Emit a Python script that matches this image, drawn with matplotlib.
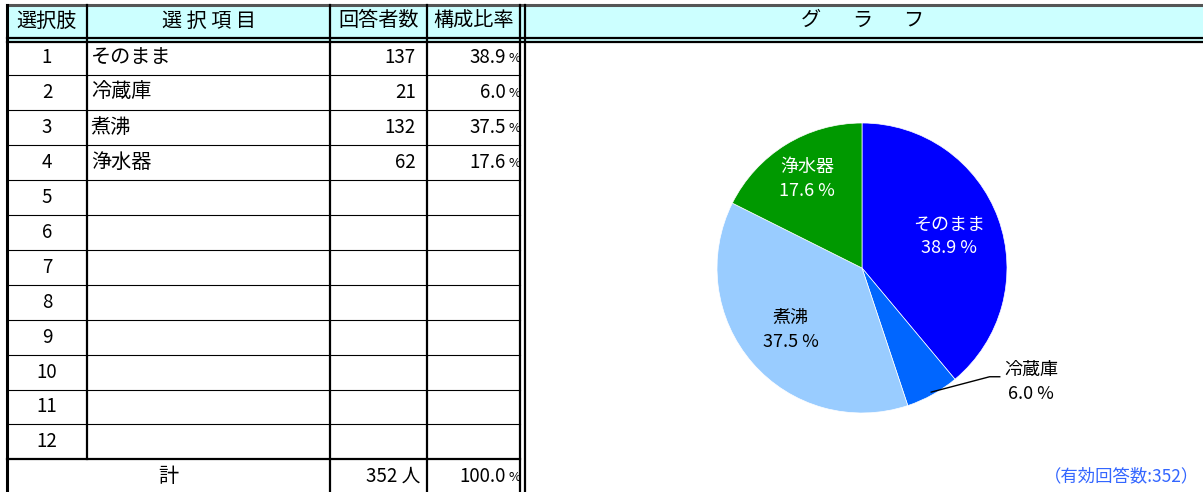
import numpy as np
import matplotlib
matplotlib.use('Agg')
import matplotlib.pyplot as plt

plt.rcParams['font.family'] = ['Noto Sans CJK JP', 'DejaVu Sans']

# table data
choices = list(range(1, 13))
items = ['そのまま', '冷蔵庫', '煮沸', '浄水器']
counts = [137, 21, 132, 62]
ratios = [38.9, 6.0, 37.5, 17.6]
total = 352
headers = ['選択肢', '選 択 項 目', '回答者数', '構成比率']
colors = ['#0000FF', '#0066FF', '#99CCFF', '#009900']
label_colors = ['white', 'black', 'black', 'white']

W, H = 1203, 492
fig = plt.figure(figsize=(W / 100, H / 100), dpi=100)
ax = fig.add_axes([0, 0, 1, 1])
ax.set_xlim(0, W)
ax.set_ylim(H, 0)
ax.axis('off')

# layout in pixels
cols = [7, 87, 330, 427, 520]
top, head_bot = 5, 42
row_h = 34.9
row0 = 40.5
n_rows = len(choices)
tab_bot = row0 + n_rows * row_h
thick, thin = 1.6, 0.8

ax.fill_between([cols[0], W], top, head_bot - 1, color='#CCFFFF', lw=0)

# header lines
ax.plot([cols[0], W], [top, top], color='#555555', lw=2.2)
ax.plot([cols[0], W], [37.5, 37.5], color='black', lw=thick)
ax.plot([cols[0], W], [42, 42], color='black', lw=thick)

# row lines
for i in range(1, n_rows):
    y = row0 + i * row_h
    ax.plot([cols[0], cols[-1]], [y, y], color='black', lw=thin)
ax.plot([cols[0], cols[-1]], [tab_bot, tab_bot], color='black', lw=thick)

# vertical lines
ax.plot([cols[0], cols[0]], [top, H], color='black', lw=2.2)
ax.plot([cols[1], cols[1]], [top, tab_bot], color='black', lw=thick)
for x in cols[2:4]:
    ax.plot([x, x], [top, H], color='black', lw=thick)
ax.plot([520, 520], [top, H], color='black', lw=thick)
ax.plot([525, 525], [top, H], color='black', lw=thick)

fs = 14.5
nfs = 13.5
# headers
hx = [(cols[i] + cols[i + 1]) / 2 for i in range(4)]
for x, h in zip(hx, headers):
    ax.text(x, 21, h, ha='center', va='center', fontsize=fs)
for k, ch in enumerate('グラフ'):
    ax.text(811 + k * 51, 20, ch, ha='center', va='center', fontsize=fs)

# rows
for i, c in enumerate(choices):
    yc = row0 + (i + 0.5) * row_h
    ax.text(47, yc, str(c), ha='center', va='center', fontsize=nfs)
    if i < len(items):
        ax.text(91, yc, items[i], ha='left', va='center', fontsize=fs)
        ax.text(416, yc, str(counts[i]), ha='right', va='center', fontsize=nfs)
        ax.text(506, yc, f'{ratios[i]:.1f}', ha='right', va='center', fontsize=nfs)
        ax.text(515, yc + 1, '%', ha='center', va='center', fontsize=9.5)

yt = tab_bot + 17
ax.text(168, yt, '計', ha='center', va='center', fontsize=fs)
ax.text(420, yt, f'{total} 人', ha='right', va='center', fontsize=nfs)
ax.text(506, yt, f'{sum(ratios):.1f}', ha='right', va='center', fontsize=nfs)
ax.text(515, yt + 1, '%', ha='center', va='center', fontsize=9.5)

ax.text(1199, yt, f'（有効回答数:{total}）', ha='right', va='center',
        fontsize=12.5, color='#3366FF')

# pie
cx, cy, r = 862, 268, 145
pax = fig.add_axes([(cx - r) / W, (H - cy - r) / H, 2 * r / W, 2 * r / H])
wedges, _ = pax.pie(counts, colors=colors, startangle=90, counterclock=False,
                    radius=1, wedgeprops=dict(linewidth=0.5, edgecolor='white'))
pax.set_xlim(-1, 1)
pax.set_ylim(-1, 1)
pax.axis('off')

label_r = [0.64, None, 0.65, 0.72]
for i, w in enumerate(wedges):
    ang = np.deg2rad((w.theta1 + w.theta2) / 2)
    txt = f'{items[i]}\n{ratios[i]:.1f} %'
    if label_r[i] is not None:
        x, y = label_r[i] * np.cos(ang), label_r[i] * np.sin(ang)
        pax.text(x, y, txt, ha='center', va='center', fontsize=13,
                 color=label_colors[i], linespacing=1.4)
    else:
        ex, ey = 0.98 * np.cos(ang), 0.98 * np.sin(ang)
        pax.plot([ex, 0.88, 0.95], [ey, -0.75, -0.75], color='black', lw=1,
                 clip_on=False)
        pax.text(1.166, -0.786, txt, ha='center', va='center', fontsize=13,
                 color=label_colors[i], linespacing=1.4, clip_on=False)

fig.savefig('out.png', dpi=100)
